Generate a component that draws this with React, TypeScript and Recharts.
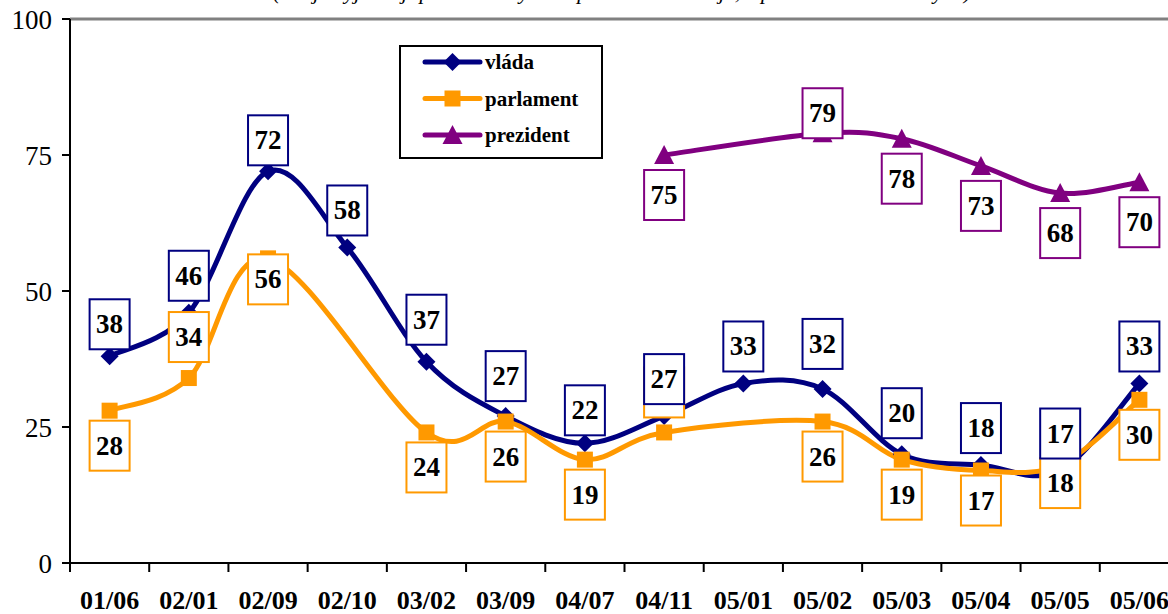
import React from 'react';
import { LineChart, Line, XAxis, YAxis, ReferenceLine, LabelList, Legend } from 'recharts';

const categories = ['01/06', '02/01', '02/09', '02/10', '03/02', '03/09', '04/07', '04/11', '05/01', '05/02', '05/03', '05/04', '05/05', '05/06'];
const vlada = [38, 46, 72, 58, 37, 27, 22, 27, 33, 32, 20, 18, 17, 33];
const parlament = [28, 34, 56, null, 24, 26, 19, 24, null, 26, 19, 17, 18, 30];
const prezident = [null, null, null, null, null, null, null, 75, null, 79, 78, 73, 68, 70];
const yTicks = [0, 25, 50, 75, 100];
const seriesNames = { vlada: 'vláda', parlament: 'parlament', prezident: 'prezident' };
const subtitle = '(údaje vyjadřují podíl kladných odpovědí – důvěřuje, v procentech dotázaných)';

const data = categories.map((cat, i) => ({
  cat,
  vlada: vlada[i],
  parlament: parlament[i],
  prezident: prezident[i],
}));

const FONT = "'Liberation Serif', 'Times New Roman', serif";
const COLORS = { vlada: '#000080', parlament: '#FF9900', prezident: '#800080' };
const PLOT_W = 1109;
const BAND = PLOT_W / categories.length;

// label placement (box centre relative to the point), like the hand-moved Excel labels
const LABEL_OFFSET = { vlada: -37, parlament: 35, prezident: 40 };
const LABEL_NUDGE: Record<string, Record<string, number>> = {
  vlada: { '01/06': -32, '02/09': -31, '03/02': -42, '03/09': -40, '04/07': -33, '05/02': -45, '05/03': -41 },
  parlament: { '02/01': -41, '02/09': 21, '04/11': -40, '05/05': 18, '05/04': 30 },
  prezident: { '05/02': -20 },
};

// Excel-like smoothed line (Catmull-Rom through the points)
const excelSmooth = (context: any) => {
  let pts: number[][] = [];
  return {
    areaStart() {},
    areaEnd() {},
    lineStart() {
      pts = [];
    },
    point(x: number, y: number) {
      pts.push([+x, +y]);
    },
    lineEnd() {
      const n = pts.length;
      if (!n) return;
      context.moveTo(pts[0][0], pts[0][1]);
      for (let i = 0; i < n - 1; i++) {
        const p0 = pts[i - 1] || pts[i];
        const p1 = pts[i];
        const p2 = pts[i + 1];
        const p3 = pts[i + 2] || pts[i + 1];
        context.bezierCurveTo(
          p1[0] + (p2[0] - p0[0]) / 6,
          p1[1] + (p2[1] - p0[1]) / 6,
          p2[0] - (p3[0] - p1[0]) / 6,
          p2[1] - (p3[1] - p1[1]) / 6,
          p2[0],
          p2[1]
        );
      }
    },
  };
};

const marker = (kind: string, cx: number, cy: number, key?: any) => {
  if (kind === 'vlada') {
    return <polygon key={key} points={`${cx},${cy - 9} ${cx + 9},${cy} ${cx},${cy + 9} ${cx - 9},${cy}`} fill={COLORS.vlada} />;
  }
  if (kind === 'parlament') {
    return <rect key={key} x={cx - 8} y={cy - 8} width={16} height={16} fill={COLORS.parlament} />;
  }
  return <polygon key={key} points={`${cx},${cy - 10} ${cx + 10},${cy + 9} ${cx - 10},${cy + 9}`} fill={COLORS.prezident} />;
};

const makeDot = (kind: string) => (props: any) => {
  const { cx, cy, value, index } = props;
  if (value == null || cy == null || isNaN(cy)) return <g key={`d-${kind}-${index}`} />;
  return marker(kind, cx, cy, `d-${kind}-${index}`);
};

const makeLabel = (kind: string) => (props: any) => {
  const { x, y, value, index } = props;
  if (value == null || y == null || isNaN(y)) return null;
  const nudge = LABEL_NUDGE[kind][categories[index]];
  const cy = y + (nudge !== undefined ? nudge : (LABEL_OFFSET as any)[kind]);
  return (
    <g key={`l-${kind}-${index}`}>
      <rect x={x - 20} y={cy - 25} width={40} height={50} fill="#fff" stroke={(COLORS as any)[kind]} strokeWidth={2} />
      <text x={x} y={cy + 9} textAnchor="middle" fontFamily={FONT} fontWeight="bold" fontSize={27} fill="#000">
        {value}
      </text>
    </g>
  );
};

const XTick = (props: any) => {
  const { x, y, payload, index } = props;
  return (
    <g>
      <line x1={x - BAND / 2} x2={x - BAND / 2} y1={y} y2={y + 9} stroke="#000" strokeWidth={2} />
      {index === categories.length - 1 && (
        <line x1={x + BAND / 2} x2={x + BAND / 2} y1={y} y2={y + 9} stroke="#000" strokeWidth={2} />
      )}
      <text x={x} y={y + 46} textAnchor="middle" fontFamily={FONT} fontWeight="bold" fontSize={26} fill="#000">
        {payload.value}
      </text>
    </g>
  );
};

const LegendBox = () => {
  const keys = ['vlada', 'parlament', 'prezident'];
  return (
    <svg width={204} height={114}>
      <rect x={1} y={1} width={202} height={112} fill="#fff" stroke="#000" strokeWidth={2} />
      {keys.map((k, i) => {
        const cy = 17 + i * 36.5;
        return (
          <g key={k}>
            <line x1={26} x2={81} y1={cy} y2={cy} stroke={(COLORS as any)[k]} strokeWidth={5} strokeLinecap="round" />
            {marker(k, 53.5, cy)}
            <text x={86} y={cy + 7} fontFamily={FONT} fontWeight="bold" fontSize={21} fill="#000">
              {(seriesNames as any)[k]}
            </text>
          </g>
        );
      })}
    </svg>
  );
};

export default function App() {
  const keys = ['vlada', 'parlament', 'prezident'];
  const labelOrder = ['parlament', 'vlada', 'prezident'];
  return (
    <div style={{ position: 'fixed', left: 0, top: 0, width: 1168, height: 614, overflow: 'hidden', background: '#fff' }}>
      <svg width={1168} height={20} style={{ position: 'absolute', left: 0, top: 0, zIndex: 2 }}>
        <text x={622} y={-1} textAnchor="middle" fontFamily={FONT} fontStyle="italic" fontSize={22} fill="#000">
          {subtitle}
        </text>
      </svg>
      <LineChart width={1190} height={614} data={data} margin={{ top: 19, right: 11, bottom: 0, left: 0 }}>
        <ReferenceLine y={100} stroke="#808080" strokeWidth={3} />
        <XAxis
          dataKey="cat"
          scale="point"
          interval={0}
          padding={{ left: BAND / 2, right: BAND / 2 }}
          height={51}
          tickSize={0}
          tickMargin={0}
          tickLine={false}
          axisLine={{ stroke: '#000', strokeWidth: 2 }}
          tick={<XTick />}
        />
        <YAxis
          domain={[0, 100]}
          ticks={yTicks}
          width={70}
          tickSize={8}
          tickMargin={10}
          axisLine={{ stroke: '#000', strokeWidth: 2 }}
          tickLine={{ stroke: '#000', strokeWidth: 2 }}
          tick={{ fontFamily: FONT, fontSize: 27, fill: '#000' }}
        />
        <Legend
          layout="vertical"
          verticalAlign="middle"
          align="center"
          wrapperStyle={{ position: 'absolute', left: 399, top: 45, width: 204, height: 114 }}
          content={() => <LegendBox />}
        />
        {keys.map((k) => (
          <Line
            key={k}
            dataKey={k}
            name={(seriesNames as any)[k]}
            type={excelSmooth as any}
            stroke={(COLORS as any)[k]}
            strokeWidth={5}
            connectNulls
            dot={makeDot(k)}
            activeDot={false}
            isAnimationActive={false}
          />
        ))}
        {labelOrder.map((k) => (
          <Line
            key={`lab-${k}`}
            dataKey={k}
            type="linear"
            stroke="none"
            connectNulls
            dot={false}
            activeDot={false}
            legendType="none"
            isAnimationActive={false}
          >
            <LabelList dataKey={k} content={makeLabel(k)} />
          </Line>
        ))}
      </LineChart>
    </div>
  );
}
